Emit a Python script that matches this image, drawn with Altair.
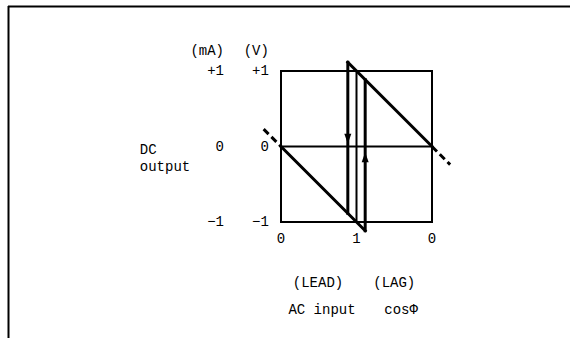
import altair as alt
import pandas as pd

# Hysteresis of the DC output against AC input power factor (cos phi).
# x runs from -1 (LEAD side, cos phi = 0) through 0 (cos phi = 1) to +1 (LAG side).
HYST = 0.115  # half-width of the switching band

# solid segments: lower branch, upper branch, switching verticals
seg_x1 = [-1.0, -HYST, -HYST, HYST]
seg_y1 = [0.0, 1 + HYST, 1 + HYST, -1 - HYST]
seg_x2 = [HYST, 1.0, -HYST, HYST]
seg_y2 = [-1 - HYST, 0.0, -1 + HYST, 1 - HYST]

# dashed continuations of the two branches
dash_x1 = [-1.23, 1.0]
dash_y1 = [0.23, 0.0]
dash_x2 = [-1.0, 1.24]
dash_y2 = [0.0, -0.24]

# thin reference lines inside the frame (zero output, cos phi = 1)
ref_x1 = [-1.0, 0.0]
ref_y1 = [0.0, -1.0]
ref_x2 = [1.0, 0.0]
ref_y2 = [0.0, 1.0]

# direction arrows on the switching verticals
arrow_x = [-HYST, HYST]
arrow_y = [0.035, -0.075]
arrow_dir = ["down", "up"]

# scale labels on the left: mA column and V column
ma_labels = ["(mA)", "+1", "0", "−1"]
v_labels = ["(V)", "+1", "0", "−1"]
scale_y = [1.27, 1.0, 0.0, -1.0]
ma_x = -1.755
v_x = -1.16

side_text = ["DC", "output"]
side_y = [-0.04, -0.27]
side_x = -2.87

xtick_text = ["0", "1", "0"]
xtick_x = [-1.0, 0.0, 1.0]
xtick_y = -1.22

bottom_text = ["(LEAD)", "(LAG)", "AC input", "cosΦ"]
bottom_x = [-0.51, 0.50, -0.457, 0.59]
bottom_y = [-1.81, -1.81, -2.17, -2.17]

FONT = "Liberation Mono"
FS = 14

xs = alt.Scale(domain=[-1, 1], nice=False, zero=False)
ys = alt.Scale(domain=[-1, 1], nice=False, zero=False)


def X(f="x"):
    return alt.X(f"{f}:Q", scale=xs, axis=None)


def Y(f="y"):
    return alt.Y(f"{f}:Q", scale=ys, axis=None)


seg = pd.DataFrame({"x": seg_x1, "y": seg_y1, "x2": seg_x2, "y2": seg_y2})
dash = pd.DataFrame({"x": dash_x1, "y": dash_y1, "x2": dash_x2, "y2": dash_y2})
ref = pd.DataFrame({"x": ref_x1, "y": ref_y1, "x2": ref_x2, "y2": ref_y2})

ref_layer = alt.Chart(ref).mark_rule(color="black", strokeWidth=2).encode(
    x=X(), y=Y(), x2="x2:Q", y2="y2:Q"
)
seg_layer = alt.Chart(seg).mark_rule(color="black", strokeWidth=3, strokeCap="square").encode(
    x=X(), y=Y(), x2="x2:Q", y2="y2:Q"
)
dash_layer = alt.Chart(dash).mark_rule(
    color="black", strokeWidth=3, strokeDash=[7, 4]
).encode(x=X(), y=Y(), x2="x2:Q", y2="y2:Q")

arrows = pd.DataFrame({"x": arrow_x, "y": arrow_y, "d": arrow_dir})
down_arrow = alt.Chart(arrows).transform_filter(alt.datum.d == "down").mark_point(
    shape="M0,0L-0.35,-1L0.35,-1Z", size=400, filled=True, color="black", opacity=1
).encode(x=X(), y=Y())
up_arrow = alt.Chart(arrows).transform_filter(alt.datum.d == "up").mark_point(
    shape="M0,0L-0.35,1L0.35,1Z", size=400, filled=True, color="black", opacity=1
).encode(x=X(), y=Y())

scale_df = pd.DataFrame(
    {
        "t": ma_labels + v_labels,
        "x": [ma_x] * 4 + [v_x] * 4,
        "y": scale_y + scale_y,
    }
)
scale_text = alt.Chart(scale_df).mark_text(
    align="right", baseline="middle", font=FONT, fontSize=FS, color="black"
).encode(x=X(), y=Y(), text="t:N")

side_df = pd.DataFrame({"t": side_text, "x": [side_x] * 2, "y": side_y})
side_layer = alt.Chart(side_df).mark_text(
    align="left", baseline="middle", font=FONT, fontSize=FS, color="black"
).encode(x=X(), y=Y(), text="t:N")

xtick_df = pd.DataFrame({"t": xtick_text, "x": xtick_x, "y": [xtick_y] * 3})
xtick_layer = alt.Chart(xtick_df).mark_text(
    align="center", baseline="middle", font=FONT, fontSize=FS, color="black"
).encode(x=X(), y=Y(), text="t:N")

bottom_df = pd.DataFrame({"t": bottom_text, "x": bottom_x, "y": bottom_y})
bottom_layer = alt.Chart(bottom_df).mark_text(
    align="center", baseline="middle", font=FONT, fontSize=FS, color="black"
).encode(x=X(), y=Y(), text="t:N")

# page frame: top edge and left edge
frame_top = alt.Chart(pd.DataFrame({"k": [0]})).mark_rule(color="black", strokeWidth=2).encode(
    x=alt.value(-273), x2=alt.value(289), y=alt.value(-64.5)
)
frame_left = alt.Chart(pd.DataFrame({"k": [0]})).mark_rule(color="black", strokeWidth=2).encode(
    x=alt.value(-272.5), y=alt.value(-65), y2=alt.value(267)
)

chart = (
    alt.layer(
        frame_top,
        frame_left,
        ref_layer,
        dash_layer,
        seg_layer,
        down_arrow,
        up_arrow,
        scale_text,
        side_layer,
        xtick_layer,
        bottom_layer,
    )
    .properties(
        width=151,
        height=151,
        autosize=alt.AutoSizeParams(type="none"),
        padding={"left": 281, "top": 71, "right": 138, "bottom": 116},
        background="white",
    )
    .configure_view(stroke="black", strokeWidth=2)
)

chart.save("out.html", embed_options={"renderer": "svg", "actions": False})
